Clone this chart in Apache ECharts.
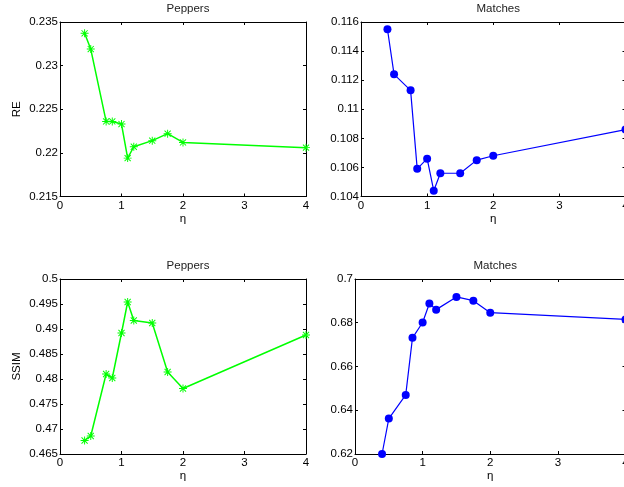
<!DOCTYPE html>
<html>
<head>
<meta charset="utf-8">
<script src="https://cdn.jsdelivr.net/npm/echarts@6/dist/echarts.min.js"></script>
<style>
    html, body { margin: 0; padding: 0; background: #fff; overflow: hidden; }
    /* a little wider than the window: the right panels run off the edge like in the original */
    #chart { width: 632px; height: 487px; }
</style>
</head>
<body>
<div id="chart"></div>
<script>
// eta values (shared x for every panel)
var etas = [0.4, 0.5, 0.75, 0.85, 1, 1.1, 1.2, 1.5, 1.75, 2, 4];
var xTicks = [0, 1, 2, 3, 4];

// RE
var peppersRE = [0.2337, 0.2319, 0.2236, 0.2236, 0.2233, 0.2194, 0.2207, 0.2214, 0.2222, 0.2212, 0.2206];
var matchesRE = [0.1155, 0.1124, 0.1113, 0.1059, 0.1066, 0.1044, 0.1056, 0.1056, 0.1065, 0.1068, 0.1086];

// SSIM
var peppersSSIM = [0.4677, 0.4686, 0.4810, 0.4802, 0.4892, 0.4954, 0.4917, 0.4912, 0.4814, 0.4781, 0.4888];
var matchesSSIM = [0.6200, 0.6362, 0.6470, 0.6731, 0.6801, 0.6888, 0.6860, 0.6918, 0.6901, 0.6846, 0.6815];

// y ranges: [min, max, interval]
var peppersRERange = [0.215, 0.235, 0.005];
var matchesRERange = [0.104, 0.116, 0.002];
var peppersSSIMRange = [0.465, 0.5, 0.005];
var matchesSSIMRange = [0.62, 0.7, 0.02];

(function () {
    var myChart = echarts.init(document.getElementById('chart'));
    var font = '"Liberation Sans", Arial, Helvetica, sans-serif';
    var fontSize = 11.5;

    var panels = [
        { title: 'Peppers', yName: 'RE', data: peppersRE, range: peppersRERange, color: '#00ff00', marker: 'star',
          grid: { left: 60, top: 22, width: 246, height: 174.5 } },
        { title: 'Matches', yName: '', data: matchesRE, range: matchesRERange, color: '#0000ff', marker: 'dot',
          grid: { left: 361, top: 22, width: 264.5, height: 174.5 } },
        { title: 'Peppers', yName: 'SSIM', data: peppersSSIM, range: peppersSSIMRange, color: '#00ff00', marker: 'star',
          grid: { left: 60, top: 279, width: 246, height: 175 } },
        { title: 'Matches', yName: '', data: matchesSSIM, range: matchesSSIMRange, color: '#0000ff', marker: 'dot',
          grid: { left: 355, top: 279, width: 270.5, height: 175 } }
    ];

    // MATLAB style '*' marker: + and x bars together
    var asterisk = 'path://M0 8.8L20 8.8L20 11.2L0 11.2Z' +
        'M8.8 0L11.2 0L11.2 20L8.8 20Z' +
        'M1.5 3.2L3.2 1.5L18.5 16.8L16.8 18.5Z' +
        'M16.8 1.5L18.5 3.2L3.2 18.5L1.5 16.8Z';

    function fmt(v) {
        return String(+v.toFixed(4));
    }

    var grids = [], xAxes = [], yAxes = [], series = [], titles = [];
    var axisLine = { show: true, onZero: false, lineStyle: { color: '#000', width: 1 } };
    var tick = { show: true, inside: true, length: 3, lineStyle: { color: '#000', width: 1 } };
    var labelStyle = { color: '#000', fontFamily: font, fontSize: fontSize };

    for (var i = 0; i < panels.length; i++) {
        var p = panels[i];
        grids.push(p.grid);

        titles.push({
            text: p.title,
            left: p.grid.left + p.grid.width / 2,
            top: p.grid.top - 24,
            textAlign: 'center',
            textStyle: { color: '#222', fontFamily: font, fontSize: fontSize, fontWeight: 'normal' }
        });

        // bottom and top x axes
        xAxes.push({
            type: 'value', gridIndex: i, min: xTicks[0], max: xTicks[xTicks.length - 1], interval: 1,
            position: 'bottom',
            name: 'η', nameLocation: 'middle', nameGap: 15,
            nameTextStyle: labelStyle,
            axisLine: axisLine, axisTick: tick, splitLine: { show: false },
            axisLabel: { margin: 3, color: '#000', fontFamily: font, fontSize: fontSize }
        });
        xAxes.push({
            type: 'value', gridIndex: i, min: xTicks[0], max: xTicks[xTicks.length - 1], interval: 1,
            position: 'top',
            axisLine: axisLine, axisTick: tick, splitLine: { show: false },
            axisLabel: { show: false }
        });

        // left and right y axes
        yAxes.push({
            type: 'value', gridIndex: i, min: p.range[0], max: p.range[1], interval: p.range[2],
            position: 'left',
            name: p.yName, nameLocation: 'middle', nameGap: 37, nameRotate: 90,
            nameTextStyle: labelStyle,
            axisLine: axisLine, axisTick: tick, splitLine: { show: false },
            axisLabel: { margin: 2, color: '#000', fontFamily: font, fontSize: fontSize, formatter: fmt }
        });
        yAxes.push({
            type: 'value', gridIndex: i, min: p.range[0], max: p.range[1], interval: p.range[2],
            position: 'right',
            axisLine: axisLine, axisTick: tick, splitLine: { show: false },
            axisLabel: { show: false }
        });

        var pts = [];
        for (var k = 0; k < etas.length; k++) {
            pts.push([etas[k], p.data[k]]);
        }

        series.push({
            type: 'line',
            xAxisIndex: i * 2,
            yAxisIndex: i * 2,
            data: pts,
            clip: false,
            symbol: p.marker == 'star' ? asterisk : 'circle',
            symbolSize: 8,
            showAllSymbol: true,
            lineStyle: { color: p.color, width: p.marker == 'star' ? 1.5 : 1.2 },
            itemStyle: { color: p.color, borderWidth: 0 },
            animation: false
        });
    }

    var options = {
        backgroundColor: '#fff',
        animation: false,
        title: titles,
        grid: grids,
        xAxis: xAxes,
        yAxis: yAxes,
        series: series
    };
    myChart.setOption(options);
})();
</script>
</body>
</html>
